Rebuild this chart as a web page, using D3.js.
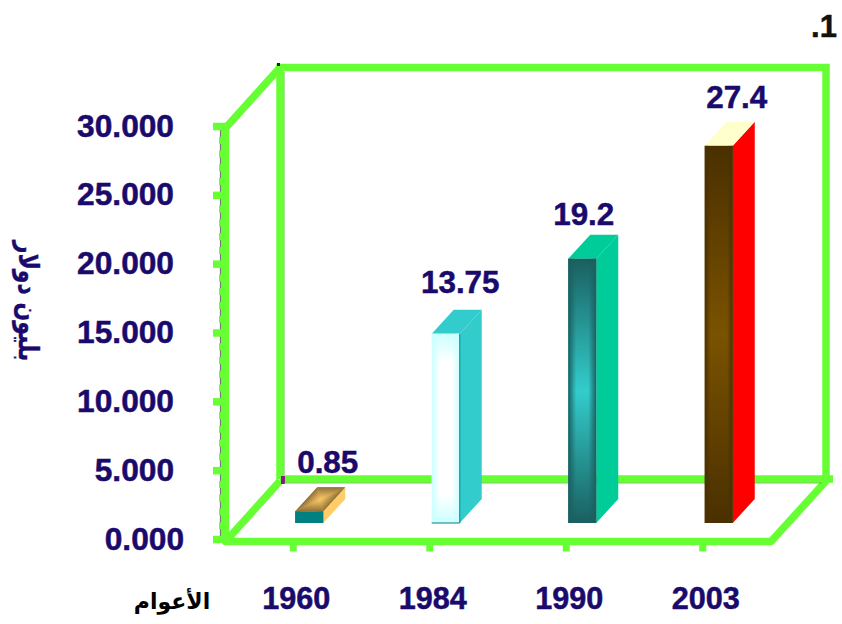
<!DOCTYPE html>
<html><head><meta charset="utf-8">
<script src="https://cdn.jsdelivr.net/npm/d3@7"></script>
<style>html,body{margin:0;padding:0;background:#fff;overflow:hidden}svg{display:block}
text{font-family:"Liberation Sans",Arial,sans-serif;font-weight:700}</style>
</head><body><svg id="c" width="842" height="624"></svg>
<script>
const years = ["1960","1984","1990","2003"];
const values = [0.85,13.75,19.2,27.4];
const valueLabels = ["0.85","13.75","19.2","27.4"];
const majorTicks = [0,5,10,15,20,25,30];
const minorTicks = d3.range(0,31).filter(v=>v%5!==0);
const frontEdge = ["#008080","#CCFFFF","#1A5F5F","#4A3000"];
const frontCentre = ["#008080","#FFFFFF","#33CCCC","#7A5200"];
const sideColor = ["#FFCC66","#33CCCC","#00CC99","#FF0000"];
const topEdge = ["#8F7038","#33CCCC","#00CC99","#FFFFCC"];
const topCentre = ["#FFCC66","#33CCCC","#00CC99","#FFFFCC"];
const yTitle = "بليون دولار", xTitle = "الأعوام", corner = ".1";

const GREEN="#66FF33", NAVY="#1A0A6B", W=7.5;
const svg=d3.select("#c"), defs=svg.append("defs");
const x=d3.scaleBand().domain(years).range([225,771]);
const y=d3.scaleLinear().domain([0,30]).range([539,126]);
const cx=d=>x(d)+x.bandwidth()/2;
const DX=55;
const barW=28, bdx=22, bdy=-24, barLift=16, barShift=16;

// --- frame
const frame=svg.append("g").attr("fill","none").attr("stroke",GREEN).attr("stroke-width",W);
const L=225.5,R=771,B=541.5,T=y(30)+2;
svg.insert("line","g").attr("x1",220.7).attr("x2",220.7).attr("y1",T).attr("y2",B).attr("stroke","#777").attr("stroke-width",1.6);
frame.append("path").attr("stroke-linejoin","miter").attr("d",d3.line()([[L+DX-.5,479],[L+DX-.5,67.5],[826,67.5],[826,479],[L+DX-.5,479]]));
frame.append("line").attr("x1",826).attr("x2",833).attr("y1",479).attr("y2",479);
frame.append("path").attr("stroke-linejoin","round").attr("d",d3.line()([[L+DX-.5,67.5],[L,T],[L,B],[R,B],[826,481]]));
frame.append("line").attr("x1",L).attr("y1",B).attr("x2",L+DX-.5).attr("y2",481);
svg.append("path").attr("d","M281 476h4v8h-4z").attr("fill","#8A1A8A");
svg.append("path").attr("d","M277 63h3v3h-3z").attr("fill","#222");
svg.append("line").attr("x1",L+DX+3.6).attr("x2",L+DX+3.6).attr("y1",72).attr("y2",475).attr("stroke","#4FC02A").attr("stroke-width",.8);
svg.append("line").attr("x1",284).attr("x2",822).attr("y1",483).attr("y2",483).attr("stroke","#4FC02A").attr("stroke-width",.8);

// --- axes
const yMinor=d3.axisLeft(y).tickValues(minorTicks).tickSize(7).tickFormat("");
const gMinor=svg.append("g").attr("transform","translate(226,0)").call(yMinor);
gMinor.select(".domain").remove();
gMinor.selectAll("line").attr("stroke",GREEN).attr("stroke-width",7);
const yMajor=d3.axisLeft(y).tickValues(majorTicks).tickSize(13).tickPadding(39).tickFormat(v=>v.toFixed(3));
const gMajor=svg.append("g").attr("transform","translate(226,0)").call(yMajor);
gMajor.select(".domain").remove();
gMajor.selectAll("line").attr("stroke",GREEN).attr("stroke-width",7.5);
gMajor.selectAll("text").attr("fill",NAVY).attr("stroke",NAVY).attr("stroke-width",.5).style("font-size","31.7px").style("font-family",'"Liberation Sans"').style("font-weight",700)
  .attr("dx",d=>d===0?10:0);
const xAxis=d3.axisBottom(x).tickValues(years).tickSize(10).tickPadding(37);
const gX=svg.append("g").attr("transform",`translate(0,${B})`).call(xAxis);
gX.select(".domain").remove();
gX.selectAll("line").attr("stroke",GREEN).attr("stroke-width",7);
gX.selectAll("text").attr("fill",NAVY).attr("stroke",NAVY).attr("stroke-width",.5).attr("dx",3).attr("dy",0).attr("y",67).style("font-size","30.6px").style("font-family",'"Liberation Sans"').style("font-weight",700);

// --- shading helpers
let gid=0;
function vGrad(edge,centre,at){
  const id="g"+(gid++),lg=defs.append("linearGradient").attr("id",id).attr("x1",0).attr("x2",0).attr("y1",0).attr("y2",1);
  [[0,edge],[at,centre],[1-at,centre],[1,edge]].forEach(s=>lg.append("stop").attr("offset",s[0]).attr("stop-color",s[1]));
  return `url(#${id})`;
}
function hGrad(edge,at){
  const id="g"+(gid++),lg=defs.append("linearGradient").attr("id",id);
  [[0,1],[at,0],[1-at,0],[1,1]].forEach(s=>lg.append("stop").attr("offset",s[0]).attr("stop-color",edge).attr("stop-opacity",s[1]));
  return `url(#${id})`;
}
function pillow(g,q,edge,centre){
  const c=[d3.mean(q,p=>p[0]),d3.mean(q,p=>p[1])];
  g.append("polygon").attr("points",q.join(" ")).attr("fill",d3.interpolateRgb(edge,centre)(.5));
  q.forEach((a,i)=>{
    const b=q[(i+1)%4],ex=b[0]-a[0],ey=b[1]-a[1];
    const t=((c[0]-a[0])*ex+(c[1]-a[1])*ey)/(ex*ex+ey*ey);
    const f=[a[0]+t*ex,a[1]+t*ey],id="g"+(gid++);
    const lg=defs.append("linearGradient").attr("id",id).attr("gradientUnits","userSpaceOnUse")
      .attr("x1",f[0]).attr("y1",f[1]).attr("x2",c[0]).attr("y2",c[1]);
    lg.append("stop").attr("offset",0).attr("stop-color",edge);
    lg.append("stop").attr("offset",1).attr("stop-color",centre);
    g.append("polygon").attr("points",[a,b,c].join(" ")).attr("fill",`url(#${id})`);
  });
}
const vStop=[.5,.15,.5,.5], hStop=[.3,.28,.28,.2];
const rimColor=[null,"#008080",null,null];
years.forEach((yr,i)=>{
  const x0=cx(yr)+barShift-barW/2,x1=x0+barW,b=y(0)-barLift,t=b-(y(0)-y(values[i]));
  const g=svg.append("g");
  g.append("polygon").attr("points",[[x1,b],[x1+bdx,b+bdy],[x1+bdx,t+bdy],[x1,t]].join(" ")).attr("fill",sideColor[i]);
  if(topEdge[i]!==topCentre[i]) pillow(g,[[x0,t],[x0+bdx,t+bdy],[x1+bdx,t+bdy],[x1,t]],topEdge[i],topCentre[i]);
  else g.append("polygon").attr("points",[[x0,t],[x0+bdx,t+bdy],[x1+bdx,t+bdy],[x1,t]].join(" ")).attr("fill",topCentre[i]);
  g.append("rect").attr("x",x0).attr("y",t).attr("width",barW).attr("height",b-t).attr("fill",vGrad(frontEdge[i],frontCentre[i],vStop[i]));
  g.append("rect").attr("x",x0).attr("y",t).attr("width",barW).attr("height",b-t).attr("fill",hGrad(frontEdge[i],hStop[i]));
  if(rimColor[i]) g.append("path").attr("d",d3.line()([[x1,t],[x1,b],[x0,b]])).attr("fill","none").attr("stroke",rimColor[i]).attr("stroke-width",1);
});
// value labels
const labelNudge=[[18.5,-38],[14.5,-41],[1.5,-34],[18,-38]];
svg.append("g").selectAll("text").data(years).join("text")
  .attr("x",(d,i)=>cx(d)+barShift+labelNudge[i][0])
  .attr("y",(d,i)=>y(values[i])-barLift+labelNudge[i][1])
  .attr("text-anchor","middle").attr("fill",NAVY).attr("stroke",NAVY).attr("stroke-width",.5).style("font-size","31.4px")
  .text((d,i)=>valueLabels[i]);
// titles
svg.append("text").attr("transform","translate(19,301) rotate(90) scale(1,1.25)").attr("text-anchor","middle")
  .attr("fill",NAVY).attr("stroke",NAVY).attr("stroke-width",.3).style("font-family",'"DejaVu Sans"').style("font-size","22px").attr("direction","rtl").text(yTitle);
svg.append("text").attr("x",172).attr("y",609).attr("text-anchor","middle").attr("fill","#000")
  .style("font-family",'"DejaVu Sans"').style("font-size","22px").attr("direction","rtl").text(xTitle);
svg.append("text").attr("x",824).attr("y",37).attr("text-anchor","middle").attr("fill","#111").attr("stroke","#111").attr("stroke-width",.5).style("font-size","31px").text(corner);
</script></body></html>
